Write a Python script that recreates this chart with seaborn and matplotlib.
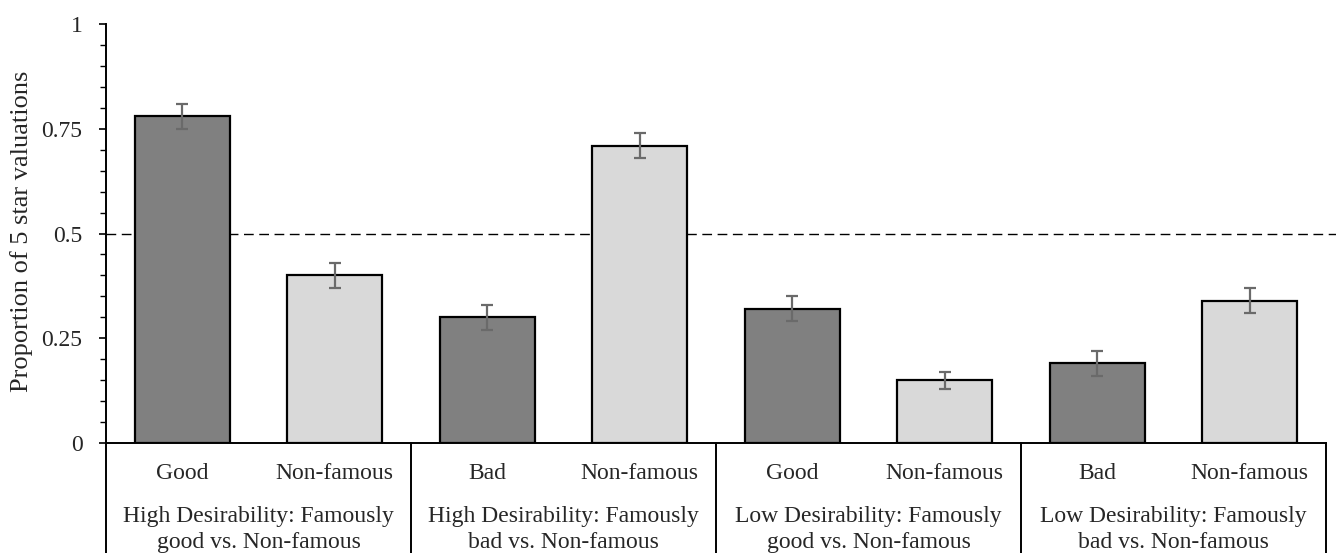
import numpy as np
import pandas as pd
import matplotlib
matplotlib.use("Agg")
import matplotlib.pyplot as plt
import matplotlib.transforms as mtransforms
from matplotlib.ticker import MultipleLocator, FixedLocator
import seaborn as sns

# Data
conditions = ["Good", "Non-famous", "Bad", "Non-famous",
              "Good", "Non-famous", "Bad", "Non-famous"]
kinds = ["Famous", "Non-famous", "Famous", "Non-famous",
         "Famous", "Non-famous", "Famous", "Non-famous"]
proportions = [0.78, 0.40, 0.30, 0.71, 0.32, 0.15, 0.19, 0.34]
errors = [0.03, 0.03, 0.03, 0.03, 0.03, 0.02, 0.03, 0.03]
group_line1 = ["High Desirability: Famously", "High Desirability: Famously",
               "Low Desirability: Famously", "Low Desirability: Famously"]
group_line2 = ["good vs. Non-famous", "bad vs. Non-famous",
               "good vs. Non-famous", "bad vs. Non-famous"]
y_ticks = [0, 0.25, 0.5, 0.75, 1]
y_tick_labels = ["0", "0.25", "0.5", "0.75", "1"]

sns.set_theme(style="white")
plt.rcParams["font.family"] = ["Liberation Serif", "DejaVu Serif"]
plt.rcParams["font.size"] = 17

df = pd.DataFrame({
    "pos": list(range(len(proportions))),
    "kind": kinds,
    "value": proportions,
})

fig = plt.figure(figsize=(13.36, 5.53), dpi=100)
ax = fig.add_axes([106 / 1336, 1 - 443 / 553, 1220 / 1336, 419 / 553])

sns.barplot(data=df, x="pos", y="value", hue="kind",
            palette={"Famous": "#808080", "Non-famous": "#d9d9d9"},
            dodge=False, width=0.62, edgecolor="black", linewidth=1.6,
            errorbar=None, legend=False, ax=ax, zorder=2)

ax.errorbar(df["pos"], df["value"], yerr=errors, fmt="none",
            ecolor="#6a6a6a", elinewidth=1.6, capsize=4, capthick=1.6,
            zorder=3)

n = len(proportions)
ax.set_xlim(-0.5, n - 0.5)
ax.set_ylim(0, 1)
ax.yaxis.set_major_locator(FixedLocator(y_ticks))
ax.set_yticklabels(y_tick_labels)
ax.yaxis.set_minor_locator(MultipleLocator(0.05))
ax.tick_params(axis="y", which="major", length=5, width=1.2, color="black",
               labelsize=17, pad=12, left=True)
ax.tick_params(axis="y", which="minor", length=4.5, width=1.0, color="black",
               left=True)
ax.set_xticks([])
ax.set_xlabel("")
ax.set_ylabel("Proportion of 5 star valuations", fontsize=19, va="center")
ax.yaxis.set_label_coords(-0.0689, 0.505)

for side in ["top", "right"]:
    ax.spines[side].set_visible(False)
for side in ["left", "bottom"]:
    ax.spines[side].set_color("black")
    ax.spines[side].set_linewidth(1.4)

# Reference line at 0.5
trans = mtransforms.blended_transform_factory(ax.transAxes, ax.transData)
ax.plot([0, 1.009], [0.5, 0.5], transform=trans, color="black",
        linestyle=(0, (7, 4)), linewidth=1.0, clip_on=False, zorder=1)

# Two-level category axis
tx = mtransforms.blended_transform_factory(ax.transData, ax.transAxes)
for i, label in enumerate(conditions):
    ax.text(i, -0.0859, label, transform=tx, ha="center", va="baseline",
            fontsize=17)
for g in range(len(group_line1)):
    ax.text(2 * g + 0.5, -0.1885, group_line1[g], transform=tx,
            ha="center", va="baseline", fontsize=17)
    ax.text(2 * g + 0.5, -0.2506, group_line2[g], transform=tx,
            ha="center", va="baseline", fontsize=17)
for b in range(len(group_line1) + 1):
    ax.plot([2 * b - 0.5, 2 * b - 0.5], [0, -0.27], transform=tx,
            color="black", linewidth=1.4, clip_on=False)

fig.savefig("out.png", dpi=100)
